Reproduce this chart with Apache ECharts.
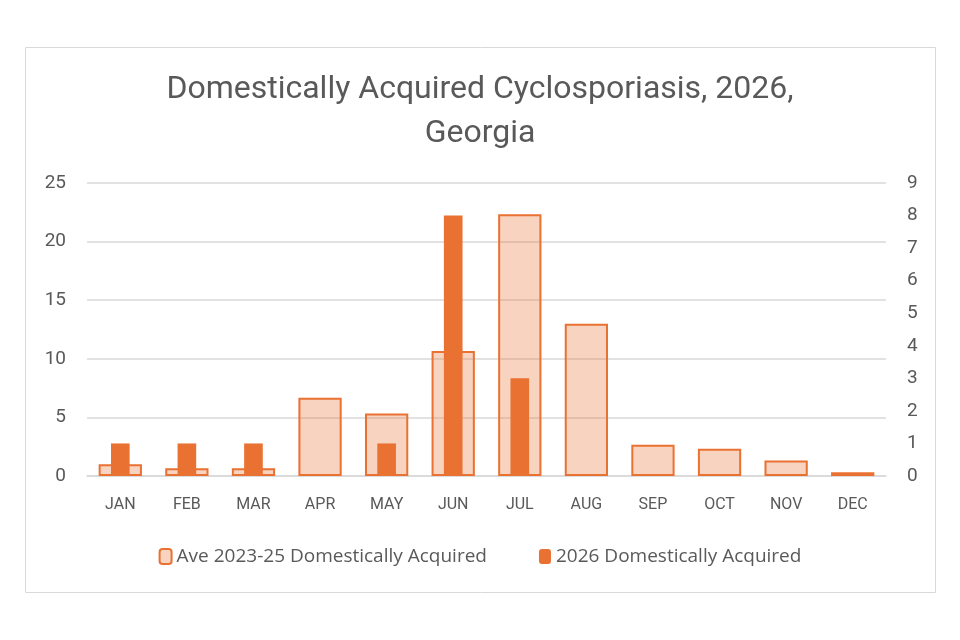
<!DOCTYPE html>
<html>
<head>
<meta charset="utf-8">
<script src="https://cdn.jsdelivr.net/npm/echarts@6/dist/echarts.min.js"></script>
<style>
  html, body { margin: 0; padding: 0; background: #fff; }
  #chart { width: 960px; height: 640px; }
</style>
</head>
<body>
<div id="chart"></div>
<script>
var months = ["JAN","FEB","MAR","APR","MAY","JUN","JUL","AUG","SEP","OCT","NOV","DEC"];
var aveCases = [1.0, 0.67, 0.67, 6.67, 5.33, 10.67, 22.33, 13.0, 2.67, 2.33, 1.33, 0.33];
var cases2026 = [1, 1, 1, null, 1, 8, 3, null, null, null, null, null];
var leftTicks = [0, 5, 10, 15, 20, 25];
var rightTicks = [0, 1, 2, 3, 4, 5, 6, 7, 8, 9];

var chart = echarts.init(document.getElementById('chart'));

var font = 'Roboto, "Noto Sans", sans-serif';
var orange = '#E97132';

option = {
    backgroundColor: '#fff',
    textStyle: { fontFamily: font },
    title: {
        text: 'Domestically Acquired Cyclosporiasis, 2026,\nGeorgia',
        left: 'center',
        top: 63,
        textStyle: {
            fontFamily: font,
            fontSize: 32,
            fontWeight: 'normal',
            color: '#595959',
            lineHeight: 44
        }
    },
    graphic: [{
        type: 'rect',
        shape: { x: 25.5, y: 47.5, width: 910, height: 545 },
        style: { fill: 'none', stroke: '#D9D9D9', lineWidth: 1 },
        silent: true
    }],
    legend: {
        bottom: 69,
        left: 'center',
        itemWidth: 12,
        itemHeight: 15,
        itemGap: 52,
        textStyle: { fontFamily: '"Open Sans", Roboto, sans-serif', fontSize: 19, color: '#595959' },
        data: ['Ave 2023-25 Domestically Acquired', '2026 Domestically Acquired']
    },
    grid: {
        left: 87,
        right: 74,
        top: 183,
        bottom: 164
    },
    xAxis: [
        {
            type: 'category',
            data: months,
            axisTick: { show: false },
            axisLine: { lineStyle: { color: '#D9D9D9', width: 1.5 } },
            axisLabel: { color: '#595959', fontSize: 16, margin: 21, interval: 0 }
        },
        {
            type: 'category',
            data: months,
            show: false
        }
    ],
    yAxis: [
        {
            type: 'value',
            min: 0,
            max: 25,
            interval: 5,
            axisLine: { show: false },
            axisTick: { show: false },
            axisLabel: { color: '#595959', fontSize: 19, margin: 21 },
            splitLine: { lineStyle: { color: '#D9D9D9', width: 1.5 } }
        },
        {
            type: 'value',
            min: 0,
            max: 9,
            interval: 1,
            axisLine: { show: false },
            axisTick: { show: false },
            axisLabel: { color: '#595959', fontSize: 19, margin: 21 },
            splitLine: { show: false }
        }
    ],
    series: [
        {
            name: 'Ave 2023-25 Domestically Acquired',
            type: 'bar',
            xAxisIndex: 0,
            yAxisIndex: 0,
            barWidth: '65%',
            data: aveCases,
            itemStyle: {
                color: 'rgba(233,113,50,0.31)',
                borderColor: orange,
                borderWidth: 2
            },
            z: 2
        },
        {
            name: '2026 Domestically Acquired',
            type: 'bar',
            xAxisIndex: 1,
            yAxisIndex: 1,
            barWidth: '28%',
            data: cases2026,
            itemStyle: { color: orange },
            z: 3
        }
    ]
};
chart.setOption(option);
</script>
</body>
</html>
